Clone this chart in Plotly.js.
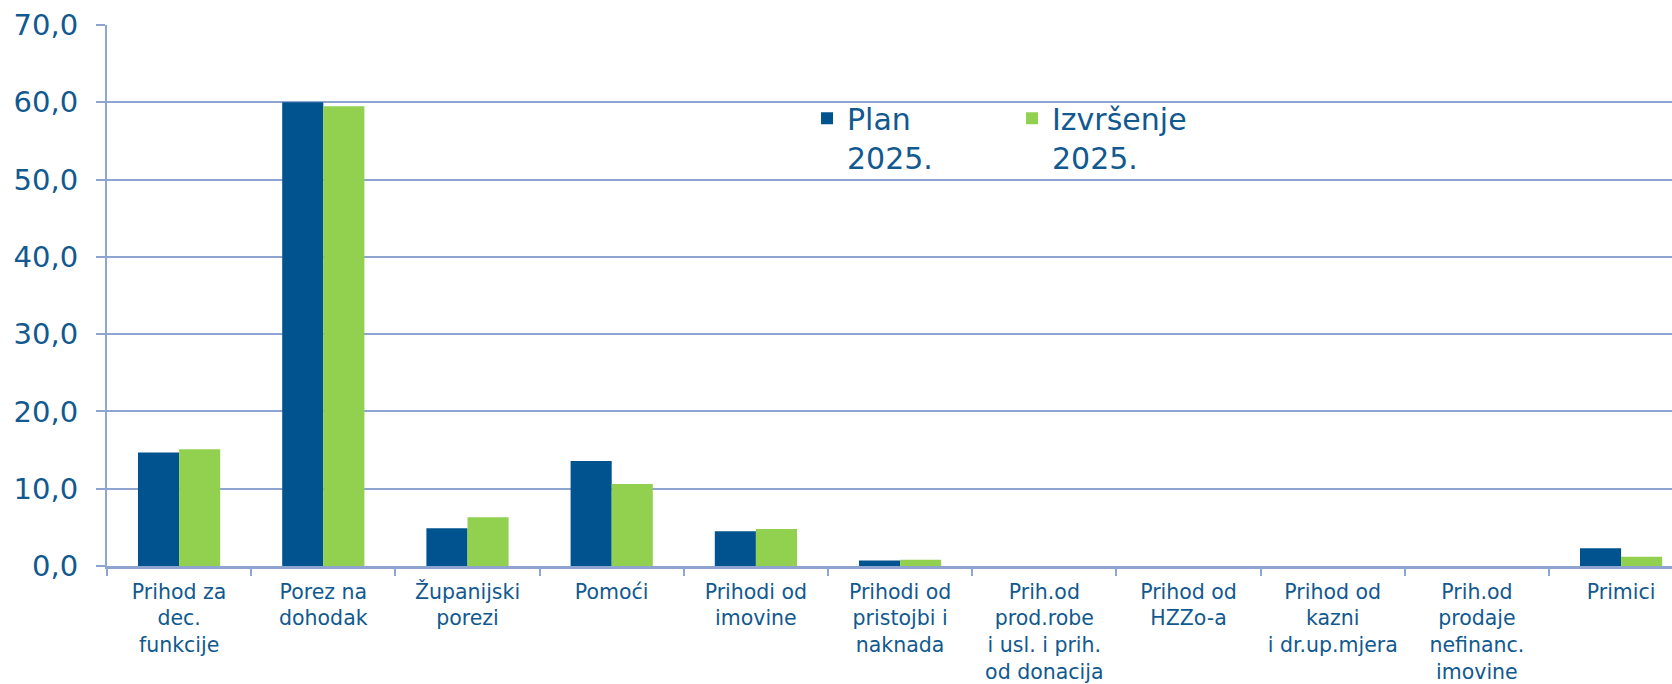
<!DOCTYPE html>
<html>
<head>
<meta charset="utf-8">
<script src="https://cdn.plot.ly/plotly-3.0.1.min.js"></script>
<style>
  html, body { margin: 0; padding: 0; background: #ffffff; }
  #chart { width: 1672px; height: 684px; }
</style>
</head>
<body>
<div id="chart"></div>
<script>
const categories = [
  "Prihod za<br>dec.<br>funkcije",
  "Porez na<br>dohodak",
  "Županijski<br>porezi",
  "Pomoći",
  "Prihodi od<br>imovine",
  "Prihodi od<br>pristojbi i<br>naknada",
  "Prih.od<br>prod.robe<br>i usl. i prih.<br>od donacija",
  "Prihod od<br>HZZo-a",
  "Prihod od<br>kazni<br>i dr.up.mjera",
  "Prih.od<br>prodaje<br>nefinanc.<br>imovine",
  "Primici"
];
const plan2025 = [14.7, 60.0, 4.9, 13.6, 4.5, 0.7, 0, 0, 0, 0, 2.3];
const izvrsenje2025 = [15.1, 59.5, 6.3, 10.6, 4.8, 0.8, 0, 0, 0, 0, 1.2];
const seriesNames = ["Plan<br>2025.", "Izvršenje<br>2025."];
const yTicks = [0, 10, 20, 30, 40, 50, 60, 70];

const textColor = "#11598F";
const gridColor = "#8EA5D2";
const font = "DejaVu Sans, Verdana, sans-serif";

const traces = [
  { type: "bar", x: categories, y: plan2025, name: seriesNames[0],
    marker: { color: "#00538F", line: { width: 0 } }, hoverinfo: "none" },
  { type: "bar", x: categories, y: izvrsenje2025, name: seriesNames[1],
    marker: { color: "#92D050", line: { width: 0 } }, hoverinfo: "none" }
];

const layout = {
  width: 1672, height: 684,
  margin: { l: 107, r: 0, t: 25, b: 118, pad: 0 },
  paper_bgcolor: "#ffffff", plot_bgcolor: "#ffffff",
  separators: ", ",
  barmode: "group", bargap: 0.43, bargroupgap: 0,
  showlegend: true,
  legend: {
    orientation: "h", x: 0.4473, xanchor: "left", y: 0.8755, yanchor: "top",
    valign: "top", entrywidth: 160, entrywidthmode: "pixels",
    font: { family: font, size: 30, color: textColor },
    bgcolor: "rgba(0,0,0,0)", borderwidth: 0, traceorder: "normal"
  },
  xaxis: {
    type: "category", range: [-0.5, 10.353], fixedrange: true,
    showline: true, linecolor: gridColor, linewidth: 3,
    ticks: "outside", tickson: "boundaries", ticklen: 7, tickwidth: 2, tickcolor: gridColor,
    showgrid: false, zeroline: false,
    ticklabelstandoff: 5,
    tickfont: { family: font, size: 20.5, color: textColor },
    tickangle: 0, automargin: false
  },
  yaxis: {
    range: [0, 70], tickvals: yTicks, tickformat: ".1f", fixedrange: true,
    showline: true, linecolor: gridColor, linewidth: 2,
    ticks: "outside", ticklen: 9, tickwidth: 2, tickcolor: gridColor,
    showgrid: true, gridcolor: gridColor, gridwidth: 2, zeroline: false,
    ticklabelstandoff: 12,
    tickfont: { family: font, size: 29, color: textColor },
    automargin: false
  }
};

Plotly.newPlot("chart", traces, layout, { staticPlot: true, displayModeBar: false });
</script>
</body>
</html>
